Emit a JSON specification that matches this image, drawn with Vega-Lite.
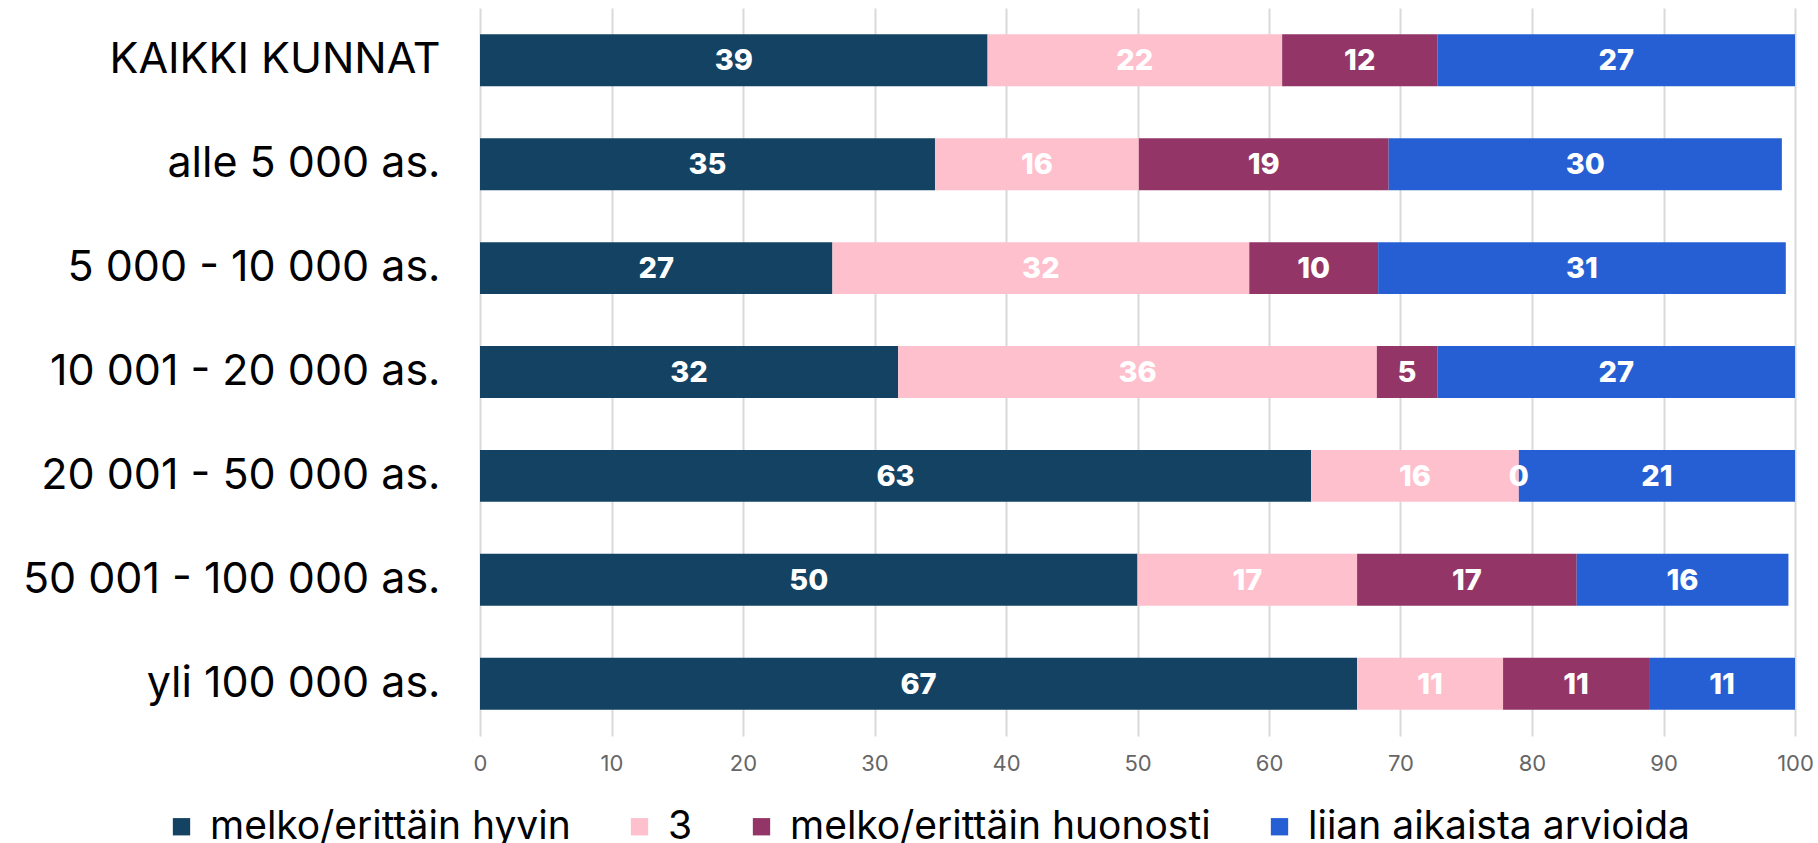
{
  "$schema": "https://vega.github.io/schema/vega-lite/v6.json",
  "autosize": "none",
  "width": 1315,
  "height": 728,
  "padding": {"left": 480, "top": 8, "right": 23, "bottom": 107},
  "background": "white",
  "config": {"view": {"stroke": null}, "font": "Inter"},
  "data": {"values": [
    {"g": "KAIKKI KUNNAT", "c": "melko/erittäin hyvin", "n": 1, "v": 38.6},
    {"g": "KAIKKI KUNNAT", "c": "3", "n": 2, "v": 22.4},
    {"g": "KAIKKI KUNNAT", "c": "melko/erittäin huonosti", "n": 3, "v": 11.8},
    {"g": "KAIKKI KUNNAT", "c": "liian aikaista arvioida", "n": 4, "v": 27.2},
    {"g": "alle 5 000 as.", "c": "melko/erittäin hyvin", "n": 1, "v": 34.6},
    {"g": "alle 5 000 as.", "c": "3", "n": 2, "v": 15.5},
    {"g": "alle 5 000 as.", "c": "melko/erittäin huonosti", "n": 3, "v": 19.0},
    {"g": "alle 5 000 as.", "c": "liian aikaista arvioida", "n": 4, "v": 29.9},
    {"g": "5 000 - 10 000 as.", "c": "melko/erittäin hyvin", "n": 1, "v": 26.8},
    {"g": "5 000 - 10 000 as.", "c": "3", "n": 2, "v": 31.7},
    {"g": "5 000 - 10 000 as.", "c": "melko/erittäin huonosti", "n": 3, "v": 9.8},
    {"g": "5 000 - 10 000 as.", "c": "liian aikaista arvioida", "n": 4, "v": 31.0},
    {"g": "10 001 - 20 000 as.", "c": "melko/erittäin hyvin", "n": 1, "v": 31.8},
    {"g": "10 001 - 20 000 as.", "c": "3", "n": 2, "v": 36.4},
    {"g": "10 001 - 20 000 as.", "c": "melko/erittäin huonosti", "n": 3, "v": 4.6},
    {"g": "10 001 - 20 000 as.", "c": "liian aikaista arvioida", "n": 4, "v": 27.2},
    {"g": "20 001 - 50 000 as.", "c": "melko/erittäin hyvin", "n": 1, "v": 63.2},
    {"g": "20 001 - 50 000 as.", "c": "3", "n": 2, "v": 15.8},
    {"g": "20 001 - 50 000 as.", "c": "melko/erittäin huonosti", "n": 3, "v": 0},
    {"g": "20 001 - 50 000 as.", "c": "liian aikaista arvioida", "n": 4, "v": 21.0},
    {"g": "50 001 - 100 000 as.", "c": "melko/erittäin hyvin", "n": 1, "v": 50.0},
    {"g": "50 001 - 100 000 as.", "c": "3", "n": 2, "v": 16.7},
    {"g": "50 001 - 100 000 as.", "c": "melko/erittäin huonosti", "n": 3, "v": 16.7},
    {"g": "50 001 - 100 000 as.", "c": "liian aikaista arvioida", "n": 4, "v": 16.1},
    {"g": "yli 100 000 as.", "c": "melko/erittäin hyvin", "n": 1, "v": 66.7},
    {"g": "yli 100 000 as.", "c": "3", "n": 2, "v": 11.1},
    {"g": "yli 100 000 as.", "c": "melko/erittäin huonosti", "n": 3, "v": 11.1},
    {"g": "yli 100 000 as.", "c": "liian aikaista arvioida", "n": 4, "v": 11.1}
  ]},
  "encoding": {
    "y": {
      "field": "g", "type": "nominal", "title": null,
      "sort": ["KAIKKI KUNNAT", "alle 5 000 as.", "5 000 - 10 000 as.", "10 001 - 20 000 as.", "20 001 - 50 000 as.", "50 001 - 100 000 as.", "yli 100 000 as."],
      "scale": {"paddingInner": 0.5, "paddingOuter": 0.2535},
      "axis": {"domain": false, "ticks": false, "grid": false, "labelFont": "Inter", "labelFontSize": 43, "labelColor": "#000000", "labelPadding": 40, "labelLimit": 500}
    },
    "order": {"field": "n", "type": "quantitative", "sort": "ascending"}
  },
  "layer": [
    {
      "mark": {"type": "bar"},
      "encoding": {
        "x": {
          "field": "v", "type": "quantitative", "stack": "zero", "title": null,
          "scale": {"domain": [0, 100], "nice": false},
          "axis": {"values": [0, 10, 20, 30, 40, 50, 60, 70, 80, 90, 100], "domain": false, "ticks": false, "grid": true, "gridColor": "#d9d9d9", "gridWidth": 2, "labelFlush": false, "labelOverlap": false, "labelFont": "Inter", "labelFontSize": 22, "labelColor": "#666666", "labelPadding": 17}
        },
        "color": {
          "field": "c", "type": "nominal", "title": null,
          "scale": {
            "domain": ["melko/erittäin hyvin", "3", "melko/erittäin huonosti", "liian aikaista arvioida"],
            "range": ["#134263", "#FFC0CE", "#933566", "#265FD3"]
          },
          "legend": {
            "orient": "none", "legendX": -318, "legendY": 799, "direction": "horizontal",
            "symbolType": "square", "symbolSize": 300, "symbolStrokeWidth": 0,
            "labelFont": "Inter", "labelFontSize": 39, "labelColor": "#000000", "labelLimit": 600,
            "labelOffset": 9, "columnPadding": 49
          }
        }
      }
    },
    {
      "mark": {"type": "text", "color": "white", "font": "Inter", "fontWeight": 800, "fontSize": 29, "align": "center", "baseline": "middle", "dy": 1},
      "encoding": {
        "x": {"field": "v", "type": "quantitative", "stack": "zero", "bandPosition": 0.5},
        "text": {"field": "v", "type": "quantitative", "format": ".0f"}
      }
    }
  ]
}
